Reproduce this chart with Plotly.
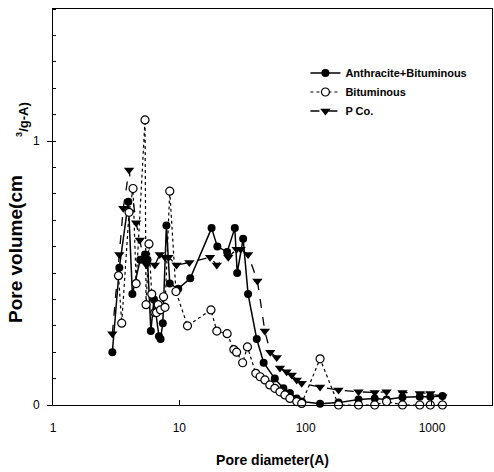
import plotly.graph_objects as go

# Anthracite+Bituminous (filled circles, solid line)
ab_x = [2.95, 3.35, 3.95, 4.25, 4.9, 5.35, 5.6, 5.95, 6.3, 6.9, 7.1, 7.4, 7.9, 8.4, 9.8, 12.2,
        18.0, 20.0, 23.9, 27.5, 28.7, 32.0, 35.0, 41.0, 46.5, 57.0, 66.6, 75.0, 85.0, 93.0,
        130, 182, 262, 352, 437, 584, 800, 970, 1210]
ab_y = [0.20, 0.52, 0.77, 0.42, 0.55, 0.57, 0.55, 0.28, 0.40, 0.26, 0.25, 0.31, 0.68, 0.46, 0.44, 0.48,
        0.67, 0.60, 0.58, 0.67, 0.50, 0.63, 0.42, 0.25, 0.16, 0.10, 0.063, 0.045, 0.025, 0.013,
        0.005, 0.009, 0.021, 0.025, 0.021, 0.029, 0.031, 0.031, 0.034]

# Bituminous (open circles, dotted line)
bi_x = [3.3, 3.5, 4.0, 4.3, 4.55, 5.35, 5.45, 5.75, 6.05, 6.4, 6.6, 6.8, 7.1, 7.5, 7.7, 8.4, 9.4,
        11.6, 17.8, 19.8, 23.9, 27.0, 28.4, 31.7, 34.6, 40.3, 43.6, 47.6, 52.0, 57.0, 62.6, 68.5,
        75.0, 85.0, 93.0, 130, 182, 262, 352, 437, 584, 800, 970, 1210]
bi_y = [0.49, 0.31, 0.73, 0.82, 0.46, 1.08, 0.38, 0.61, 0.42, 0.35, 0.35, 0.38, 0.36, 0.41, 0.37, 0.81, 0.43,
        0.30, 0.36, 0.28, 0.27, 0.21, 0.20, 0.16, 0.22, 0.12, 0.107, 0.095, 0.076, 0.063, 0.05, 0.038,
        0.025, 0.013, 0.006, 0.175, 0.0, 0.0, 0.0, 0.013, 0.0, 0.0, 0.0, 0.0]

# P Co. (filled down-triangles, dashed line)
pc_x = [2.95, 3.35, 3.6, 4.0, 4.55, 4.87, 5.2, 5.5, 6.4, 7.0, 7.7, 8.2, 9.5, 12.0, 17.5, 19.8,
        24.4, 28.4, 30.6, 35.0, 41.5, 47.5, 52.5, 59.0, 62.6, 70.7, 77.6, 85.0, 93.0,
        130, 182, 262, 352, 437, 584, 800, 970, 1210]
pc_y = [0.27, 0.57, 0.745, 0.89, 0.69, 0.625, 0.55, 0.53, 0.53, 0.57, 0.56, 0.56, 0.53, 0.54, 0.56, 0.53,
        0.56, 0.59, 0.59, 0.57, 0.47, 0.28, 0.20, 0.18, 0.14, 0.126, 0.114, 0.095, 0.082,
        0.068, 0.057, 0.05, 0.047, 0.05, 0.047, 0.044, 0.044, 0.031]

x_ticks = [1, 10, 100, 1000]
x_tick_labels = ["1", "10", "100", "1000"]
y_ticks = [0, 1]
y_tick_labels = ["0", "1"]

fig = go.Figure()
fig.add_trace(go.Scatter(x=ab_x, y=ab_y, name="Anthracite+Bituminous", mode="lines+markers",
                         line=dict(color="black", width=1.5),
                         marker=dict(symbol="circle", size=8, color="black"),
                         cliponaxis=False, legendrank=1))
fig.add_trace(go.Scatter(x=pc_x, y=pc_y, name="P Co.", mode="lines+markers",
                         line=dict(color="black", width=1.3, dash="dash"),
                         marker=dict(symbol="triangle-down", size=9, color="black"),
                         cliponaxis=False, legendrank=3))
fig.add_trace(go.Scatter(x=bi_x, y=bi_y, name="Bituminous", mode="lines+markers",
                         line=dict(color="black", width=1.2, dash="dot"),
                         marker=dict(symbol="circle", size=8, color="white",
                                     line=dict(color="black", width=1.2)),
                         cliponaxis=False, legendrank=2))

fig.update_layout(
    width=494, height=472,
    margin=dict(l=53, r=2, t=9, b=67),
    paper_bgcolor="white", plot_bgcolor="white",
    font=dict(family="Liberation Sans, Arial, sans-serif", color="black", size=12),
    showlegend=True,
    legend=dict(x=0.575, y=0.875, xanchor="left", yanchor="top",
                bgcolor="rgba(0,0,0,0)", font=dict(size=11, family="Liberation Sans, Arial", weight="bold"),
                tracegroupgap=2, itemwidth=30),
    xaxis=dict(type="log", range=[0, 3.475], tickvals=x_ticks, ticktext=x_tick_labels,
               ticks="inside", ticklen=5, tickcolor="black", showgrid=False, zeroline=False,
               showline=True, linecolor="black", linewidth=1, mirror=True,
               tickfont=dict(size=12), ticklabelstandoff=12,
               title=dict(text="<b>Pore diameter(A)</b>", font=dict(size=14), standoff=20)),
    yaxis=dict(range=[0, 1.5], tickvals=y_ticks, ticktext=y_tick_labels,
               ticks="outside", ticklen=5, tickcolor="black", showgrid=False, zeroline=False,
               showline=True, linecolor="black", linewidth=1, mirror=True,
               tickfont=dict(size=12), ticklabelstandoff=5,
               minor=dict(dtick=0.1, ticks="inside", ticklen=3, tickcolor="black", showgrid=False)),
)
fig.add_annotation(text="<b>Pore volume(cm</b>", xref="paper", yref="paper",
                   x=0, y=0.394, xanchor="center", yanchor="middle", xshift=-37, textangle=-90,
                   showarrow=False, font=dict(size=19))
fig.add_annotation(text="<b><sup>3</sup>/g-A)</b>", xref="paper", yref="paper",
                   x=0, y=0.72, xanchor="center", yanchor="middle", xshift=-31, textangle=-90,
                   showarrow=False, font=dict(size=13))

fig.write_html("out.html", config={"displayModeBar": False},
               post_script="document.body.style.margin='0';document.body.style.overflow='hidden';")
